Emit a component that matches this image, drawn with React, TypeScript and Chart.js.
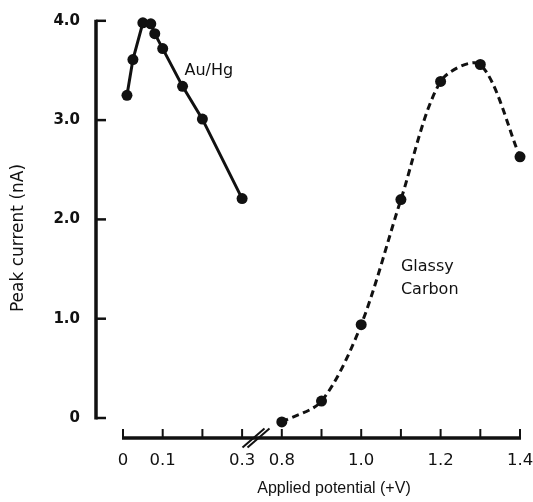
import React, { useEffect, useRef } from "react";
import { Chart, registerables } from "chart.js";
Chart.register(...registerables);

// Data
const auHgPotential = [0.01, 0.025, 0.05, 0.07, 0.08, 0.1, 0.15, 0.2, 0.3];
const auHgCurrent = [3.25, 3.61, 3.98, 3.97, 3.87, 3.72, 3.34, 3.01, 2.21];
const gcPotential = [0.8, 0.9, 1.0, 1.1, 1.2, 1.3, 1.4];
const gcCurrent = [-0.04, 0.17, 0.94, 2.2, 3.39, 3.56, 2.63];

const xTickValues = [0, 0.1, 0.3, 0.8, 1.0, 1.2, 1.4];
const xTickLabels = ["0", "0.1", "0.3", "0.8", "1.0", "1.2", "1.4"];
const xMinorTicks = [0, 0.1, 0.2, 0.3, 0.8, 0.9, 1.0, 1.1, 1.2, 1.3, 1.4];
const yTickValues = [0, 1, 2, 3, 4];
const yTickLabels = ["0", "1.0", "2.0", "3.0", "4.0"];

const annotations = [
  { text: "Au/Hg", v: 0.155, y: 3.5 },
  { text: "Glassy", v: 1.1, y: 1.52 },
  { text: "Carbon", v: 1.1, y: 1.29 },
];

// broken axis: 0..0.3 then 0.8..1.4, with a 0.1 wide gap
const BREAK_LO = 0.3;
const BREAK_HI = 0.8;
const GAP = 0.1;
const toAxis = (v: number) => (v <= BREAK_LO ? v : v - (BREAK_HI - BREAK_LO - GAP));

const INK = "#111";

const axesPlugin = {
  id: "customAxes",
  afterDraw(chart: any) {
    const { ctx, chartArea, scales } = chart;
    const xs = scales.x;
    const ys = scales.y;
    ctx.save();
    ctx.strokeStyle = INK;
    ctx.fillStyle = INK;
    ctx.lineCap = "butt";

    // y axis line
    const ax = chartArea.left;
    ctx.lineWidth = 3.5;
    ctx.beginPath();
    ctx.moveTo(ax, ys.getPixelForValue(4) - 1);
    ctx.lineTo(ax, ys.getPixelForValue(0) + 1.5);
    ctx.stroke();
    // y ticks (inward)
    ctx.lineWidth = 2.5;
    yTickValues.forEach((v) => {
      const py = ys.getPixelForValue(v);
      ctx.beginPath();
      ctx.moveTo(ax, py);
      ctx.lineTo(ax + 10, py);
      ctx.stroke();
    });

    // x axis line
    const by = chartArea.bottom;
    ctx.lineWidth = 3.5;
    ctx.beginPath();
    ctx.moveTo(xs.getPixelForValue(toAxis(0)) - 1, by);
    ctx.lineTo(xs.getPixelForValue(toAxis(1.4)) + 1, by);
    ctx.stroke();
    // x ticks (upward)
    ctx.lineWidth = 2;
    xMinorTicks.forEach((v) => {
      const px = xs.getPixelForValue(toAxis(v));
      ctx.beginPath();
      ctx.moveTo(px, by);
      ctx.lineTo(px, by - 9);
      ctx.stroke();
    });
    // break mark
    const cx = xs.getPixelForValue(0.335);
    ctx.lineWidth = 2;
    [-2.5, 2.5].forEach((d) => {
      ctx.beginPath();
      ctx.moveTo(cx + d - 11, by + 9.5);
      ctx.lineTo(cx + d + 11, by - 9.5);
      ctx.stroke();
    });

    // axis titles
    ctx.textAlign = "center";
    ctx.textBaseline = "middle";
    ctx.font = "16px 'Liberation Sans', Arial, sans-serif";
    ctx.fillText("Applied potential (+V)", 334, 489);
    ctx.save();
    ctx.translate(19, 238);
    ctx.rotate(-Math.PI / 2);
    ctx.font = "17px 'DejaVu Sans', sans-serif";
    ctx.fillText("Peak current (nA)", 0, 0);
    ctx.restore();

    // curve annotations
    ctx.textAlign = "left";
    ctx.font = "16px 'DejaVu Sans', sans-serif";
    annotations.forEach((a) => {
      ctx.fillText(a.text, xs.getPixelForValue(toAxis(a.v)), ys.getPixelForValue(a.y));
    });
    ctx.restore();
  },
};

const noPad = (s: any) => {
  s.paddingLeft = 0;
  s.paddingRight = 0;
  s.paddingTop = 0;
  s.paddingBottom = 0;
};

export default function App() {
  const ref = useRef<HTMLCanvasElement | null>(null);
  useEffect(() => {
    document.body.style.margin = "0";
    const canvas = ref.current;
    if (!canvas) return;
    const chart = new Chart(canvas, {
      type: "scatter",
      data: {
        datasets: [
          {
            label: "Au/Hg",
            data: auHgPotential.map((v, i) => ({ x: toAxis(v), y: auHgCurrent[i] })),
            showLine: true,
            borderColor: INK,
            borderWidth: 3,
            backgroundColor: INK,
            pointBackgroundColor: INK,
            pointBorderWidth: 0,
            pointRadius: 5.5,
            tension: 0,
            clip: false,
          } as any,
          {
            label: "Glassy Carbon",
            data: gcPotential.map((v, i) => ({ x: toAxis(v), y: gcCurrent[i] })),
            showLine: true,
            borderColor: INK,
            borderWidth: 3,
            borderDash: [7, 4.5],
            backgroundColor: INK,
            pointBackgroundColor: INK,
            pointBorderWidth: 0,
            pointRadius: 5.5,
            tension: 0.3,
            clip: false,
          } as any,
        ],
      },
      options: {
        animation: false,
        responsive: false,
        maintainAspectRatio: false,
        layout: { padding: { top: 10, right: 6, left: 0, bottom: 0 } },
        plugins: { legend: { display: false }, tooltip: { enabled: false } },
        scales: {
          x: {
            type: "linear",
            min: -0.068,
            max: 1.0176,
            grid: { display: false, drawTicks: false },
            border: { display: false },
            afterBuildTicks: (s: any) => {
              s.ticks = xTickValues.map((v) => ({ value: toAxis(v) }));
            },
            afterFit: (s: any) => {
              s.height = 64;
              noPad(s);
            },
            ticks: {
              padding: 13,
              autoSkip: false,
              maxRotation: 0,
              color: INK,
              font: { family: "'DejaVu Sans', sans-serif", size: 16.5 },
              callback: (_v: any, i: number) => xTickLabels[i],
            },
          },
          y: {
            type: "linear",
            min: -0.2014,
            max: 4.1088,
            grid: { display: false, drawTicks: false },
            border: { display: false },
            afterBuildTicks: (s: any) => {
              s.ticks = yTickValues.map((v) => ({ value: v }));
            },
            afterFit: (s: any) => {
              s.width = 96;
              noPad(s);
            },
            ticks: {
              padding: 16,
              color: INK,
              font: { family: "'DejaVu Sans', sans-serif", size: 15, weight: "bold" },
              callback: (_v: any, i: number) => yTickLabels[i],
            },
          },
        },
      },
      plugins: [axesPlugin],
    });
    return () => chart.destroy();
  }, []);
  return <canvas ref={ref} width={533} height={502} style={{ display: "block" }} />;
}
